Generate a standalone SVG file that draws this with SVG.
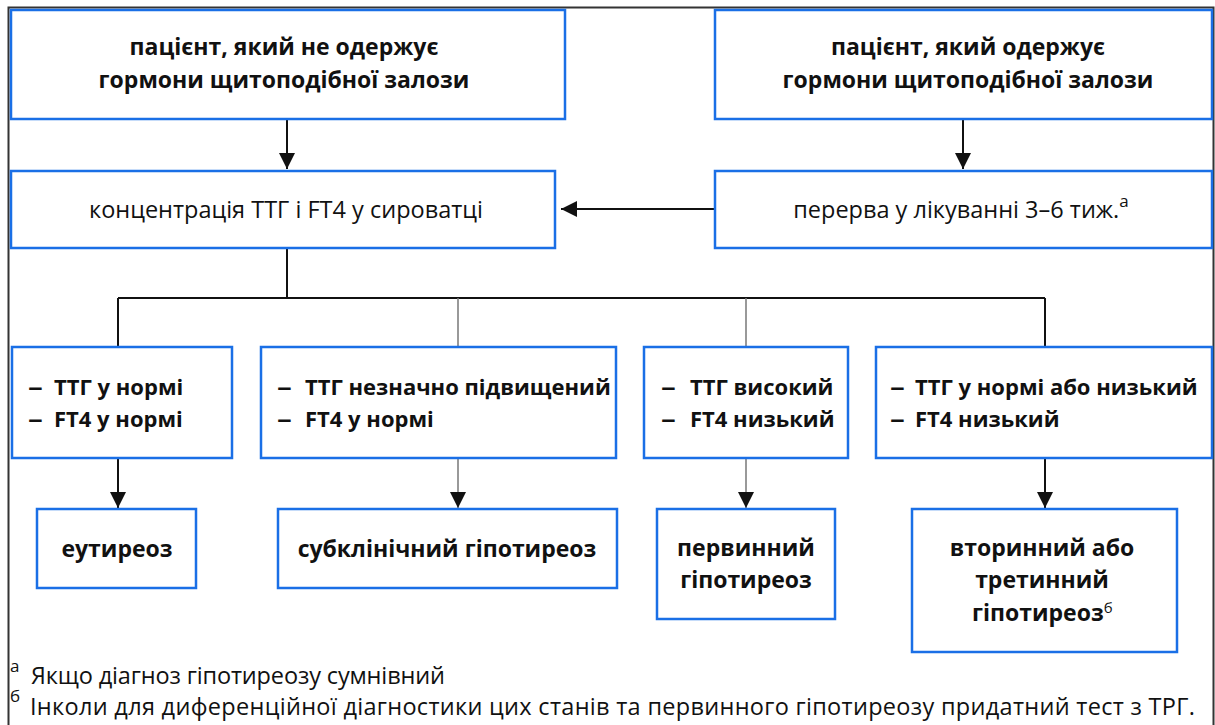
<svg xmlns="http://www.w3.org/2000/svg" width="1215" height="725" viewBox="0 0 1215 725">
<style>
.box{fill:#fff;stroke:#1a6fe6;stroke-width:2.5}
.b{font-family:"Open Sans","Noto Sans","Liberation Sans",sans-serif;font-weight:700;font-size:22px;fill:#111}
.bl{font-size:23px}
.r{font-family:"Open Sans","Noto Sans","Liberation Sans",sans-serif;font-weight:400;font-size:23.5px;fill:#111}
.sup{font-family:"Open Sans","Noto Sans","Liberation Sans",sans-serif;font-weight:400;font-size:17px;fill:#111}
.sm{font-size:15px}
.c{text-anchor:middle}
.ln{fill:none;stroke:#111;stroke-width:2}
.lg{fill:none;stroke:#777;stroke-width:1.5}
</style>
<defs>
<marker id="ah" viewBox="0 0 10 10" refX="10" refY="5" markerWidth="16" markerHeight="16" markerUnits="userSpaceOnUse" orient="auto">
<path d="M0,0 L10,5 L0,10 z" fill="#111"/>
</marker>
</defs>
<rect width="1215" height="725" fill="#fff"/>
<path d="M8.5,725 V7.5 H1213.5 V725" fill="none" stroke="#333" stroke-width="2"/>

<g id="connectors">
<path class="ln" d="M287,119 V169" marker-end="url(#ah)"/>
<path class="ln" d="M963,119 V169" marker-end="url(#ah)"/>
<path class="ln" d="M715,209 H561" marker-end="url(#ah)"/>
<path class="ln" d="M287,248 V298"/>
<path class="ln" d="M118,298 H1045" stroke-width="1.5"/>
<path class="ln" d="M118,298 V347"/>
<path class="lg" d="M458,298 V347"/>
<path class="lg" d="M746,298 V347"/>
<path class="ln" d="M1045,298 V347"/>
<path class="ln" d="M118,458 V508" marker-end="url(#ah)"/>
<path class="lg" d="M458,458 V508" marker-end="url(#ah)"/>
<path class="lg" d="M746,458 V508" marker-end="url(#ah)"/>
<path class="ln" d="M1045,458 V508" marker-end="url(#ah)"/>
</g>

<g id="n-no-hormones">
<rect class="box" x="11" y="10" width="554" height="109"/>
<text class="b bl c" x="284" y="55">пацієнт, який не одержує</text>
<text class="b bl c" x="284" y="88">гормони щитоподібної залози</text>
</g>
<g id="n-hormones">
<rect class="box" x="715" y="10" width="497" height="109"/>
<text class="b bl c" x="968" y="55">пацієнт, який одержує</text>
<text class="b bl c" x="968" y="88">гормони щитоподібної залози</text>
</g>
<g id="n-concentration">
<rect class="box" x="11" y="171" width="544" height="77"/>
<text class="r c" x="286" y="218">концентрація ТТГ і FT4 у сироватці</text>
</g>
<g id="n-break">
<rect class="box" x="715" y="171" width="497" height="77"/>
<text class="r c" x="961" y="218">перерва у лікуванні 3–6 тиж.<tspan class="sup" dy="-11">а</tspan></text>
</g>

<g id="n-r1">
<rect class="box" x="12" y="347" width="220" height="111"/>
<text class="b" transform="translate(28,395) scale(1.35,1)">–</text><text class="b" x="54" y="395">ТТГ у нормі</text>
<text class="b" transform="translate(28,427) scale(1.35,1)">–</text><text class="b" x="54" y="427">FT4 у нормі</text>
</g>
<g id="n-r2">
<rect class="box" x="261" y="347" width="355" height="111"/>
<text class="b" transform="translate(277,395) scale(1.35,1)">–</text><text class="b" x="305" y="395">ТТГ незначно підвищений</text>
<text class="b" transform="translate(277,427) scale(1.35,1)">–</text><text class="b" x="305" y="427">FT4 у нормі</text>
</g>
<g id="n-r3">
<rect class="box" x="644" y="347" width="204" height="111"/>
<text class="b" transform="translate(661,395) scale(1.35,1)">–</text><text class="b" x="690" y="395">ТТГ високий</text>
<text class="b" transform="translate(661,427) scale(1.35,1)">–</text><text class="b" x="690" y="427">FT4 низький</text>
</g>
<g id="n-r4">
<rect class="box" x="876" y="347" width="336" height="111"/>
<text class="b" transform="translate(890,395) scale(1.35,1)">–</text><text class="b" x="915" y="395">ТТГ у нормі або низький</text>
<text class="b" transform="translate(890,427) scale(1.35,1)">–</text><text class="b" x="915" y="427">FT4 низький</text>
</g>

<g id="n-euthyroid">
<rect class="box" x="37" y="509" width="159" height="79"/>
<text class="b bl c" x="117" y="557">еутиреоз</text>
</g>
<g id="n-subclinical">
<rect class="box" x="278" y="509" width="339" height="79"/>
<text class="b bl c" x="447" y="557">субклінічний гіпотиреоз</text>
</g>
<g id="n-primary">
<rect class="box" x="657" y="509" width="178" height="110"/>
<text class="b bl c" x="746" y="556">первинний</text>
<text class="b bl c" x="746" y="588">гіпотиреоз</text>
</g>
<g id="n-secondary">
<rect class="box" x="912" y="509" width="265" height="143"/>
<text class="b bl c" x="1042" y="556">вторинний або</text>
<text class="b bl c" x="1042" y="588">третинний</text>
<text class="b bl" x="972" y="621">гіпотиреоз<tspan class="sup sm" dy="-8">б</tspan></text>
</g>

<g id="footnotes">
<text class="sup" x="10" y="672">а</text>
<text class="r" x="31" y="684" textLength="414">Якщо діагноз гіпотиреозу сумнівний</text>
<text class="sup" x="10" y="702">б</text>
<text class="r" x="30" y="715" textLength="1165">Інколи для диференційної діагностики цих станів та первинного гіпотиреозу придатний тест з ТРГ.</text>
</g>
</svg>
